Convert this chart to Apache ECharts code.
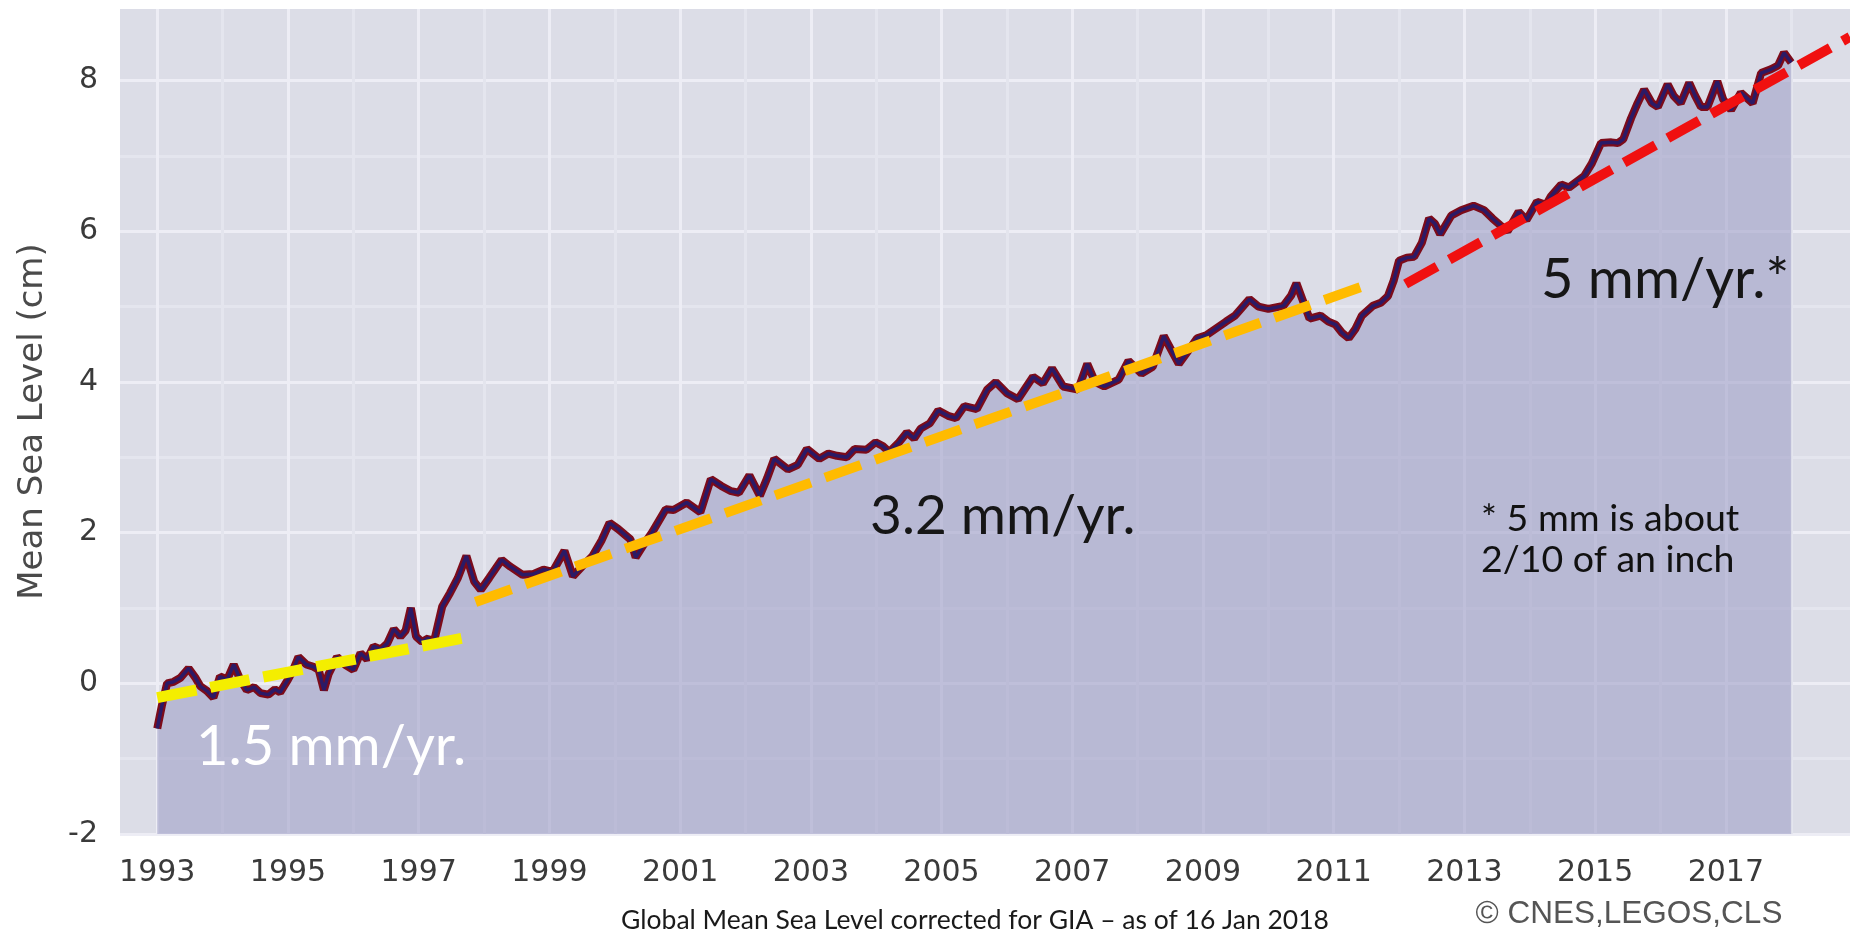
<!DOCTYPE html>
<html>
<head>
    <meta charset="utf-8">
    <title>Global Mean Sea Level</title>
    <script src="https://cdn.jsdelivr.net/npm/echarts@6/dist/echarts.min.js"></script>
    <style>
        html, body { margin: 0; padding: 0; background: #fff; }
        #main { width: 1850px; height: 937px; }
    </style>
</head>
<body>
<div id="main"></div>
<script>
    // GMSL (cm)
    var years = [
        1993.00, 1993.07, 1993.15, 1993.25, 1993.35, 1993.48, 1993.58, 1993.66, 1993.76, 1993.86, 1993.96,
        1994.07, 1994.17, 1994.27, 1994.37, 1994.48, 1994.58, 1994.70, 1994.80, 1994.88,
        1995.00, 1995.08, 1995.16, 1995.28, 1995.39, 1995.47, 1995.55, 1995.62, 1995.75, 1995.87,
        1996.00, 1996.11, 1996.21, 1996.31, 1996.42, 1996.52, 1996.62, 1996.72, 1996.80, 1996.88, 1996.96,
        1997.05, 1997.15, 1997.22, 1997.36, 1997.48, 1997.60, 1997.73, 1997.85, 1997.95,
        1998.08, 1998.27, 1998.40, 1998.59, 1998.75, 1998.91,
        1999.05, 1999.23, 1999.36, 1999.50, 1999.66, 1999.80, 1999.92,
        2000.05, 2000.24, 2000.32, 2000.45, 2000.57, 2000.78, 2000.90,
        2001.10, 2001.31, 2001.47, 2001.63, 2001.78, 2001.90,
        2002.06, 2002.22, 2002.33, 2002.44, 2002.65, 2002.80, 2002.94,
        2003.13, 2003.27, 2003.40, 2003.55, 2003.67, 2003.85, 2003.99,
        2004.10, 2004.20, 2004.35, 2004.47, 2004.58, 2004.68, 2004.82, 2004.95,
        2005.10, 2005.22, 2005.35, 2005.54, 2005.70, 2005.83,
        2006.00, 2006.17, 2006.40, 2006.55, 2006.69, 2006.86,
        2007.09, 2007.23, 2007.35, 2007.49, 2007.71, 2007.86,
        2008.06, 2008.23, 2008.40, 2008.50, 2008.63, 2008.78, 2008.91,
        2009.05, 2009.20, 2009.35, 2009.49, 2009.71, 2009.85,
        2010.00, 2010.23, 2010.35, 2010.43, 2010.52, 2010.63, 2010.80, 2010.92,
        2011.03, 2011.13, 2011.23, 2011.33, 2011.43, 2011.60, 2011.72, 2011.83, 2011.92,
        2012.00, 2012.12, 2012.23, 2012.35, 2012.46, 2012.55, 2012.63, 2012.80, 2012.95,
        2013.14, 2013.30, 2013.43, 2013.55, 2013.66, 2013.83, 2013.95,
        2014.11, 2014.25, 2014.32, 2014.48, 2014.60, 2014.83, 2014.95,
        2015.09, 2015.25, 2015.35, 2015.43, 2015.55, 2015.65, 2015.75, 2015.87, 2015.96,
        2016.11, 2016.20, 2016.31, 2016.44, 2016.53, 2016.62, 2016.72, 2016.87, 2016.96,
        2017.08, 2017.23, 2017.41, 2017.54, 2017.69, 2017.80, 2017.89, 2018.00
    ];
    var gmsl = [
        -0.60, -0.30, 0.00, 0.02, 0.07, 0.20, 0.08, -0.04, -0.10, -0.19, 0.09,
        0.05, 0.25, 0.05, -0.09, -0.05, -0.13, -0.15, -0.08, -0.12,
        0.05, 0.18, 0.35, 0.25, 0.22, 0.18, -0.09, 0.12, 0.35, 0.25,
        0.18, 0.40, 0.32, 0.49, 0.45, 0.53, 0.72, 0.62, 0.70, 1.00, 0.62,
        0.55, 0.60, 0.50, 1.02, 1.20, 1.40, 1.69, 1.35, 1.24,
        1.40, 1.64, 1.55, 1.44, 1.45, 1.51,
        1.48, 1.76, 1.42, 1.55, 1.69, 1.90, 2.13,
        2.05, 1.91, 1.67, 1.85, 2.00, 2.31, 2.30,
        2.40, 2.27, 2.71, 2.62, 2.55, 2.53,
        2.76, 2.49, 2.72, 2.98, 2.84, 2.90, 3.11,
        2.98, 3.05, 3.02, 3.00, 3.11, 3.10, 3.20,
        3.15, 3.07, 3.20, 3.33, 3.25, 3.38, 3.45, 3.62,
        3.55, 3.52, 3.68, 3.64, 3.90, 4.00,
        3.85, 3.77, 4.07, 3.98, 4.18, 3.94,
        3.90, 4.24, 4.00, 3.94, 4.03, 4.28,
        4.11, 4.20, 4.61, 4.45, 4.24, 4.42, 4.58,
        4.62, 4.71, 4.80, 4.88, 5.10, 5.00,
        4.97, 5.01, 5.15, 5.31, 5.10, 4.84, 4.88, 4.80,
        4.76, 4.65, 4.58, 4.70, 4.88, 5.01, 5.05, 5.14, 5.35,
        5.61, 5.65, 5.66, 5.85, 6.17, 6.10, 5.96, 6.21, 6.28,
        6.34, 6.28, 6.17, 6.08, 6.00, 6.26, 6.15,
        6.39, 6.35, 6.46, 6.62, 6.58, 6.73, 6.90,
        7.17, 7.18, 7.17, 7.22, 7.50, 7.70, 7.88, 7.70, 7.65,
        7.95, 7.80, 7.70, 7.97, 7.80, 7.65, 7.65, 7.99, 7.75,
        7.61, 7.84, 7.70, 8.10, 8.15, 8.20, 8.37, 8.24
    ];

    // trend segments (year, cm)
    var trend15Years = [1993.0, 1997.8];
    var trend15Vals = [-0.19, 0.62];
    var trend32Years = [1997.87, 2011.45];
    var trend32Vals = [1.08, 5.27];
    var trend50Years = [2012.1, 2018.9];
    var trend50Vals = [5.30, 8.58];

    // ticks
    var xGridYears = [];
    for (var y = 1993; y <= 2018; y++) xGridYears.push(y);
    var xLabelYears = [1993, 1995, 1997, 1999, 2001, 2003, 2005, 2007, 2009, 2011, 2013, 2015, 2017];
    var yGridVals = [-2, -1, 0, 1, 2, 3, 4, 5, 6, 7, 8];
    var yLabelVals = [-2, 0, 2, 4, 6, 8];

    function pairs(xs, ys) {
        var out = [];
        for (var i = 0; i < xs.length; i++) out.push([xs[i], ys[i]]);
        return out;
    }

    var myChart = echarts.init(document.getElementById('main'));

    var tickFont = { color: '#3a3a3a', fontSize: 30, fontFamily: 'DejaVu Sans' };

    var option = {
        animation: false,
        grid: {
            left: 120, right: 0, top: 9, bottom: 103,
            show: true, backgroundColor: '#dcdde7', borderWidth: 0
        },
        xAxis: {
            type: 'value',
            min: 1992.43, max: 2018.9,
            axisLine: { show: false },
            axisTick: { show: false, customValues: xGridYears },
            axisLabel: Object.assign({ customValues: xLabelYears, margin: 24, formatter: function (v) { return String(v); } }, tickFont),
            splitLine: { show: true, customValues: xGridYears, lineStyle: { color: ['#ededf5', '#e4e5ee'], width: 3 } }
        },
        yAxis: {
            type: 'value',
            min: -2, max: 8.95,
            name: 'Mean Sea Level (cm)',
            nameLocation: 'middle',
            nameGap: 70,
            nameRotate: 90,
            nameTextStyle: { color: '#4a4a4a', fontSize: 34, fontFamily: 'DejaVu Sans' },
            axisLine: { show: false },
            axisTick: { show: false, customValues: yGridVals },
            axisLabel: Object.assign({ customValues: yLabelVals, margin: 22 }, tickFont),
            splitLine: { show: true, customValues: yGridVals, lineStyle: { color: ['#ededf5', '#e4e5ee'], width: 3 } }
        },
        series: [
            {
                name: 'halo', type: 'line', z: 2,
                data: pairs(years, gmsl),
                showSymbol: false, symbol: 'none',
                lineStyle: { color: '#7c0b1a', width: 8 },
                areaStyle: { color: 'rgb(158,159,198)', opacity: 0.58, origin: 'start' }
            },
            {
                name: 'GMSL', type: 'line', z: 3,
                data: pairs(years, gmsl),
                showSymbol: false, symbol: 'none',
                lineStyle: { color: '#2b1a66', width: 3.5 }
            },
            {
                name: '1.5 mm/yr', type: 'line', z: 4,
                data: pairs(trend15Years, trend15Vals),
                showSymbol: false, symbol: 'none',
                lineStyle: { color: '#f4ee00', width: 11, type: [40, 14], cap: 'butt' }
            },
            {
                name: '3.2 mm/yr', type: 'line', z: 4,
                data: pairs(trend32Years, trend32Vals),
                showSymbol: false, symbol: 'none',
                lineStyle: { color: '#ffbb00', width: 10, type: [38, 15], cap: 'butt' }
            },
            {
                name: '5 mm/yr', type: 'line', z: 4,
                data: pairs(trend50Years, trend50Vals),
                showSymbol: false, symbol: 'none',
                lineStyle: { color: '#f01010', width: 10, type: [36, 14], cap: 'butt' }
            }
        ],
        graphic: [
            { type: 'text', z: 10, style: { x: 196, y: 747, text: '1.5 mm/yr.', fill: '#ffffff', font: '56px Lato', textVerticalAlign: 'middle' } },
            { type: 'text', z: 10, style: { x: 870, y: 516, text: '3.2 mm/yr.', fill: '#161616', font: '55px Lato', textVerticalAlign: 'middle' } },
            { type: 'text', z: 10, style: { x: 1541, y: 280, text: '5 mm/yr.*', fill: '#161616', font: '56px Lato', textVerticalAlign: 'middle' } },
            { type: 'text', z: 10, style: { x: 1481, y: 519, text: '* 5 mm is about', fill: '#111111', font: '37.5px Lato', textVerticalAlign: 'middle' } },
            { type: 'text', z: 10, style: { x: 1481, y: 560, text: '2/10 of an inch', fill: '#111111', font: '37.5px Lato', textVerticalAlign: 'middle' } },
            { type: 'text', z: 10, style: { x: 975, y: 920, text: 'Global Mean Sea Level corrected for GIA \u2013 as of 16 Jan 2018', fill: '#1a1a1a', font: '26.5px Lato', textAlign: 'center', textVerticalAlign: 'middle' } },
            { type: 'text', z: 10, style: { x: 1629, y: 914, text: '\u00a9 CNES,LEGOS,CLS', fill: '#555555', font: '31.5px "Liberation Sans"', textAlign: 'center', textVerticalAlign: 'middle' } }
        ]
    };

    myChart.setOption(option);
</script>
</body>
</html>
